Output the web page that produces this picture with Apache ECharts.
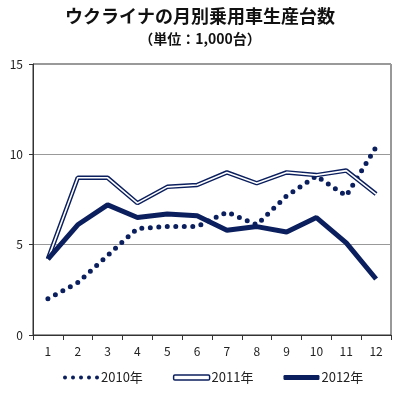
<!DOCTYPE html>
<html>
<head>
<meta charset="utf-8">
<script src="https://cdn.jsdelivr.net/npm/echarts@6/dist/echarts.min.js"></script>
<style>
  html, body { margin: 0; padding: 0; background: #fff; }
  #main { width: 400px; height: 397px; }
</style>
</head>
<body>
<div id="main"></div>
<script>
var months = ['1', '2', '3', '4', '5', '6', '7', '8', '9', '10', '11', '12'];
var y2010 = [2.0, 2.9, 4.4, 5.9, 6.0, 6.0, 6.8, 6.1, 7.7, 8.8, 7.7, 10.4];
var y2011 = [4.2, 8.7, 8.7, 7.3, 8.2, 8.3, 9.0, 8.4, 9.0, 8.85, 9.1, 7.8];
var y2012 = [4.2, 6.1, 7.2, 6.5, 6.7, 6.6, 5.8, 6.0, 5.7, 6.5, 5.1, 3.1];

var navy = '#0b1f5e';
var font = '"Noto Sans CJK JP", "Noto Sans", sans-serif';

var chart = echarts.init(document.getElementById('main'));
chart.setOption({
    animation: false,
    title: [{
        text: 'ウクライナの月別乗用車生産台数',
        left: 'center', top: 2,
        textStyle: { fontFamily: font, fontSize: 18, fontWeight: 'bold', color: '#111' }
    }, {
        text: '（単位：1,000台）',
        left: 'center', top: 27,
        textStyle: { fontFamily: font, fontSize: 14, fontWeight: 'bold', color: '#111' }
    }],
    grid: {
        left: 33, right: 9, top: 64, bottom: 62,
        show: true, borderColor: '#333', borderWidth: 1
    },
    legend: {
        bottom: 8, left: 58, itemGap: 30, itemWidth: 36, itemHeight: 5,
        textStyle: { fontFamily: font, fontSize: 13, color: '#222', padding: [0, 0, 0, -3] },
        data: [{
            name: '2010年',
            icon: 'path://M2,0A2,2,0,1,1,2,4A2,2,0,1,1,2,0ZM10,0A2,2,0,1,1,10,4A2,2,0,1,1,10,0ZM18,0A2,2,0,1,1,18,4A2,2,0,1,1,18,0ZM26,0A2,2,0,1,1,26,4A2,2,0,1,1,26,0ZM34,0A2,2,0,1,1,34,4A2,2,0,1,1,34,0Z',
            itemStyle: { color: navy }
        }, {
            name: '2011年',
            icon: 'roundRect',
            itemStyle: { color: '#fff', borderColor: navy, borderWidth: 1.5 }
        }, {
            name: '2012年',
            icon: 'roundRect',
            itemStyle: { color: navy }
        }]
    },
    xAxis: {
        type: 'category',
        data: months,
        boundaryGap: true,
        axisLine: { lineStyle: { color: '#333' } },
        axisTick: { show: true, inside: false, length: 5, lineStyle: { color: '#333' } },
        axisLabel: { fontFamily: font, fontSize: 12, color: '#222', margin: 10 }
    },
    yAxis: {
        type: 'value',
        min: 0, max: 15, interval: 5,
        axisLine: { show: true, lineStyle: { color: '#333' } },
        axisTick: { show: true, length: 4, lineStyle: { color: '#333' } },
        axisLabel: { fontFamily: font, fontSize: 12, color: '#222', margin: 10 },
        splitLine: { lineStyle: { color: '#999', width: 1.2 } }
    },
    series: [{
        name: '2010年',
        type: 'line',
        data: y2010,
        symbol: 'none',
        lineStyle: { color: navy, width: 5, type: [0, 8.5], cap: 'round' },
        itemStyle: { color: navy },
        z: 3
    }, {
        name: '2011年',
        type: 'line',
        data: y2011,
        symbol: 'none',
        lineStyle: { color: navy, width: 4.5 },
        itemStyle: { color: '#fff', borderColor: navy },
        z: 4
    }, {
        name: '2011年',
        type: 'line',
        data: y2011,
        symbol: 'none',
        lineStyle: { color: '#fff', width: 1.6 },
        itemStyle: { color: '#fff', borderColor: navy },
        z: 5
    }, {
        name: '2012年',
        type: 'line',
        data: y2012,
        symbol: 'none',
        lineStyle: { color: navy, width: 5 },
        itemStyle: { color: navy },
        z: 6
    }]
});
</script>
</body>
</html>
